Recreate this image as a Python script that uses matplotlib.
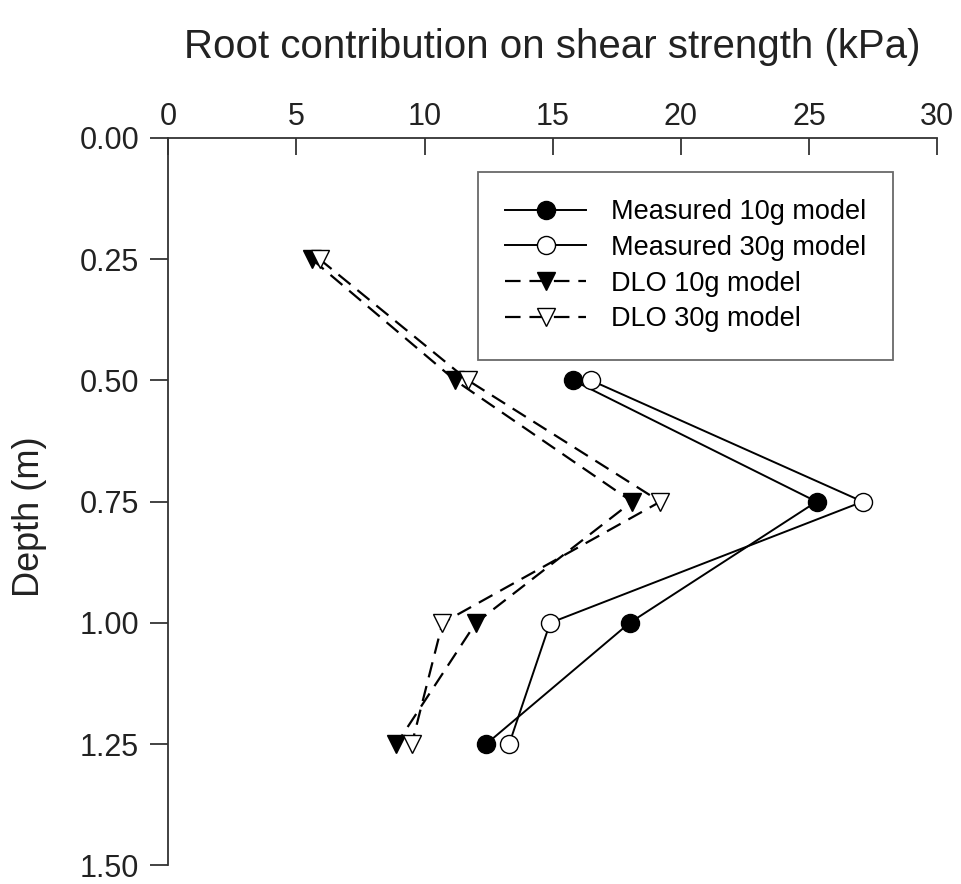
import matplotlib
matplotlib.use("Agg")
import matplotlib.pyplot as plt

plt.rcParams['font.family'] = ['Liberation Sans', 'DejaVu Sans']

# Depth (m) and root contribution (kPa)
depth_measured = [0.50, 0.75, 1.00, 1.25]
measured_10g = [15.8, 25.3, 18.0, 12.4]
measured_30g = [16.5, 27.1, 14.9, 13.3]

depth_dlo = [0.25, 0.50, 0.75, 1.00, 1.25]
dlo_10g = [5.6, 11.2, 18.1, 12.0, 8.9]
dlo_30g = [5.9, 11.7, 19.2, 10.7, 9.5]

fig = plt.figure(figsize=(9.62, 8.84), dpi=100)
ax = fig.add_axes([0.175, 0.021, 0.799, 0.823])

ax.plot(measured_10g, depth_measured, '-', color='black', lw=1.4,
        marker='o', ms=13, mfc='black', mec='black', label='Measured 10g model')
ax.plot(measured_30g, depth_measured, '-', color='black', lw=1.4,
        marker='o', ms=13, mfc='white', mec='black', label='Measured 30g model')
ax.plot(dlo_10g, depth_dlo, '--', color='black', lw=1.6, dashes=(7, 4),
        marker='v', ms=13, mfc='black', mec='black', label='DLO 10g model')
ax.plot(dlo_30g, depth_dlo, '--', color='black', lw=1.6, dashes=(7, 4),
        marker='v', ms=13, mfc='white', mec='black', label='DLO 30g model')

ax.set_xlim(0, 30)
ax.set_ylim(1.5, 0)
ax.set_xticks([0, 5, 10, 15, 20, 25, 30])
ax.set_yticks([0, 0.25, 0.5, 0.75, 1.0, 1.25, 1.5])
ax.set_yticklabels(['0.00', '0.25', '0.50', '0.75', '1.00', '1.25', '1.50'])

ax.xaxis.tick_top()
ax.xaxis.set_label_position('top')
ax.spines['right'].set_visible(False)
ax.spines['bottom'].set_visible(False)
for s in ('top', 'left'):
    ax.spines[s].set_linewidth(1.3)
    ax.spines[s].set_color('#333333')

ax.tick_params(axis='x', direction='in', length=12, width=1.2, labelsize=22, pad=4, colors='#222222')
ax.tick_params(axis='y', direction='out', length=13, width=1.2, labelsize=22, pad=8, colors='#222222')

ax.set_xlabel('Root contribution on shear strength (kPa)', fontsize=29, labelpad=32, color='#222222')
ax.set_ylabel('Depth (m)', fontsize=26, color='#222222')
ax.yaxis.set_label_coords(-0.158, 0.48)

leg = ax.legend(loc='upper left', bbox_to_anchor=(0.403, 0.953), borderaxespad=0,
                fontsize=19.5, frameon=True, fancybox=False, edgecolor='#444444',
                handlelength=3.0, labelspacing=0.36, borderpad=1.0, handletextpad=0.9)
leg.get_frame().set_linewidth(1.3)

fig.savefig('out.png', dpi=100)
